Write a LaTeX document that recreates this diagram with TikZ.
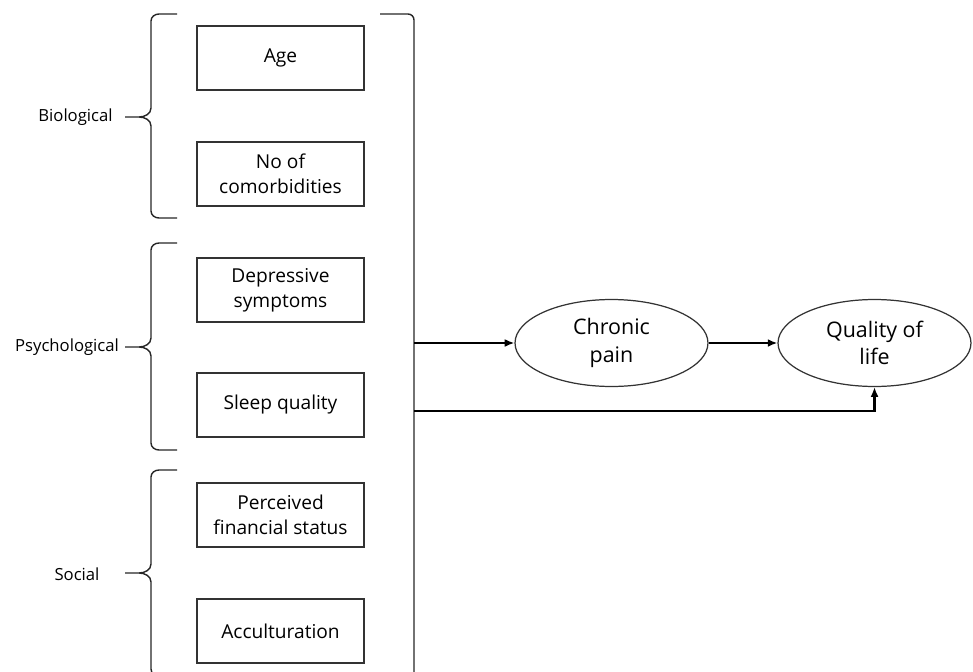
\documentclass[tikz,border=0pt]{standalone}
\usepackage{fontspec}
\setmainfont{Open Sans}
\usetikzlibrary{shapes.geometric}
\usetikzlibrary{positioning}
\usetikzlibrary{arrows.meta}
\tikzset{
factor/.style={ % Boxes for the single factors
draw=black!80,
line width=0.75pt,
minimum width=3.34cm,
minimum height=1.28cm,
align=center,
font=\fontsize{10.9}{14.2}\selectfont},
outcome/.style={ % Ellipses on the right
ellipse,
draw=black!80,
line width=0.7pt,
minimum width=3.86cm,
minimum height=1.74cm,
inner sep=0pt,
align=center,
font=\fontsize{12.2}{15.5}\selectfont},
grouplabel/.style={font=\fontsize{9.5}{11}\selectfont},
grp/.style={draw=black!85, line width=0.8pt},
link/.style={draw, -{Latex[length=5.5pt,width=4.5pt]}, line width=1.2pt},
every edge/.style={link}}
% brace for one group: top, tip, bottom
\newcommand{\groupbrace}[3]{%
\draw[grp] (177,#1) -- (159,#1) to[out=180,in=90] (151,{#1+7})
  -- (151,{#2-9}) to[out=-90,in=0] (139,#2) -- (125,#2)
  (139,#2) to[out=0,in=90] (151,{#2+9})
  -- (151,{#3-7}) to[out=-90,in=180] (159,#3) -- (177,#3);}

\begin{document}
\begin{tikzpicture}[x=0.02cm, y=-0.02cm]
\clip (0,0) rectangle (973,672);
% factors
\node[factor] (age) at (280.5,58) {Age};
\node[factor] (comorb) at (280.5,174) {No of\\comorbidities};
\node[factor] (depress) at (280.5,290) {Depressive\\symptoms};
\node[factor] (sleep) at (280.5,405) {Sleep quality};
\node[factor] (finance) at (280.5,515) {Perceived\\financial status};
\node[factor] (accult) at (280.5,631) {Acculturation};
% groups
\groupbrace{14}{117}{218}
\groupbrace{243}{347}{450}
\groupbrace{470}{573}{676}
\node[grouplabel] (bio) at (75.5,117) {Biological};
\node[grouplabel] (psych) at (67,347) {Psychological};
\node[grouplabel] (social) at (77,574) {Social};
% right bracket
\draw[grp] (380,14) -- (408,14) to[out=0,in=90] (414,20) -- (414,700);
\coordinate (bar1) at (414,343);
\coordinate (bar2) at (414,411);
% outcomes
\node[outcome] (chronic) at (611.5,343) {Chronic\\pain};
\node[outcome] (quality) at (874.5,343) {Quality of\\life};
\draw (bar1) edge (chronic);
\draw (chronic) edge (quality);
\draw[link] (bar2) -| (quality);
\end{tikzpicture}
\end{document}
